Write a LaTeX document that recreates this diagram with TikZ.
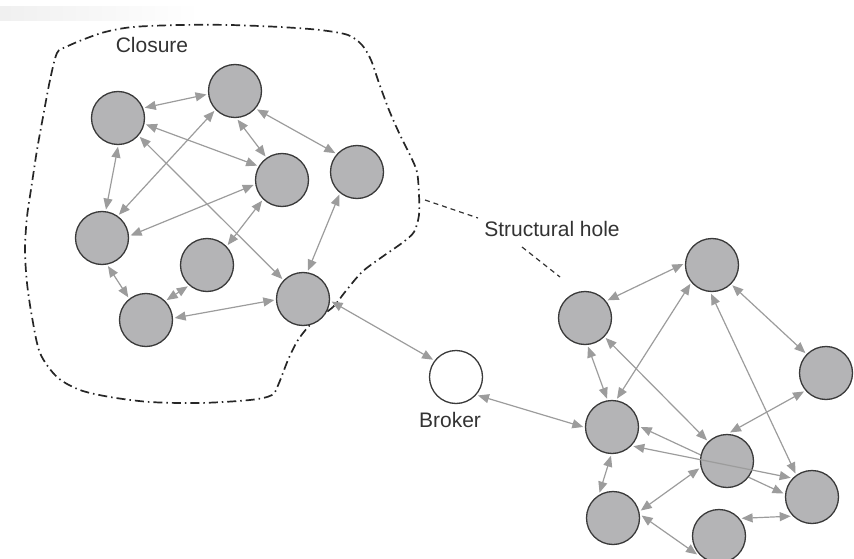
\documentclass[tikz,border=0pt]{standalone}
\usepackage{fontspec}
\setmainfont{Liberation Sans}
\usetikzlibrary{arrows.meta,backgrounds}
\definecolor{nodefill}{HTML}{B4B4B6}
\definecolor{nodeedge}{HTML}{3A3A3A}
\definecolor{linkgray}{HTML}{9C9C9C}
\definecolor{inkdark}{HTML}{262626}
\definecolor{labelgray}{HTML}{333333}
\begin{document}
\begin{tikzpicture}[x=1pt,y=-1pt,
  actor/.style={circle,draw=nodeedge,fill=nodefill,line width=1.3pt,
    minimum size=53pt,inner sep=0pt,outer sep=2.2pt},
  brokernode/.style={actor,fill=white},
  link/.style={draw=linkgray,line width=1.2pt,
    {Triangle[length=11pt,width=9pt]}-{Triangle[length=11pt,width=9pt]}},
  lbl/.style={text=labelgray,font=\fontsize{21}{25}\selectfont,inner sep=0pt},
  closureline/.style={draw=inkdark,line width=1.7pt,
    dash pattern=on 9pt off 4pt on 1.5pt off 4pt},
  holeline/.style={draw=labelgray,line width=1.2pt,dash pattern=on 5pt off 4pt}
]
\clip (0,0) rectangle (854,559);
% faint strip at the top left
\shade[left color=black!6,right color=white] (0,7) rectangle (200,21);

% closure boundary
\draw[closureline] plot[smooth cycle,tension=0.5] coordinates {
  (57,53) (50,80) (43,117) (37,150) (32,183) (27,217) (25,250) (27,283)
  (32,317) (40,353) (57,377) (80,390) (110,397) (150,402) (200,403)
  (250,400) (272,395) (279,383) (288,360) (298,340) (312,323) (333,307)
  (345,292) (362,272) (382,257) (402,243) (414,232) (419,215) (419,195)
  (417,172) (410,155) (400,135) (389,110) (379,83) (371,60) (362,45)
  (348,35) (320,30) (280,27) (230,25) (180,25) (133,27) (105,32) (82,40) (66,47)};

% labels
\node[lbl] (closure) at (152,45) {Closure};
\node[lbl] (hole) at (552,229) {Structural hole};
\node[lbl] (brokerlbl) at (450,420) {Broker};

% structural hole pointers
\coordinate (holeA) at (425,200);
\coordinate (holeB) at (478,218);
\coordinate (holeC) at (522,247);
\coordinate (holeD) at (560,277);
\draw[holeline] (holeA) -- (holeB);
\draw[holeline] (holeC) -- (holeD);

% left group
\node[actor] (A) at (118,118) {};
\node[actor] (B) at (235,91) {};
\node[actor] (C) at (282,180) {};
\node[actor] (D) at (357,172) {};
\node[actor] (E) at (102,238) {};
\node[actor] (F) at (207,265) {};
\node[actor] (G) at (146,320) {};
\node[actor] (H) at (303,299) {};

% broker
\node[brokernode] (broker) at (456,377) {};

% right group
\node[actor] (R1) at (585,318) {};
\node[actor] (R2) at (712,265) {};
\node[actor] (R3) at (826,373) {};
\node[actor] (R4) at (612,427) {};
\node[actor] (R5) at (727,461) {};
\node[actor] (R6) at (812,497) {};
\node[actor] (R7) at (613,518) {};
\node[actor] (R8) at (719,536) {};

% links of the left group
\draw[link] (A.21) -- (B.187);
\draw[link] (A.-13) -- (C.150);
\draw[link] (A.-90) -- (E.82);
\draw[link] (A.-41) -- (H.136);
\draw[link] (B.-85) -- (C.125);
\draw[link] (B.-40) -- (D.139);
\draw[link] (B.224) -- (E.54);
\draw[link] (E.5) -- (C.190);
\draw[link] (C.226) -- (F.44);
\draw[link] (D.232) -- (H.80);
\draw[link] (E.-78) -- (G.128);
\draw[link] (F.228) -- (G.44);
\draw[link] (G.4) -- (H.182);

% links through the broker
\draw[link] (H.-5) -- (broker.143);
\draw[link] (broker.-40) -- (R4.180);

% links of the right group
\draw[link] (R1.38) -- (R2.178);
\draw[link] (R1.-84) -- (R4.100);
\draw[link] (R2.221) -- (R4.80);
\draw[link] (R1.-44) -- (R5.134);
\draw[link] (R2.-45) -- (R3.136);
\draw[link] (R2.-92) -- (R6.125);
\draw[link] (R3.220) -- (R5.84);
\draw[link] (R4.-92) -- (R7.118);
\draw[link] (R7.15) -- (R5.195);
\draw[link] (R7.5) -- (R8.220);
\draw[link] (R8.38) -- (R6.222);
\draw[link] (R4.-42) -- (R6.138);
\begin{pgfonlayer}{background}
  \draw[link] (R4.0) -- (R6.173);
\end{pgfonlayer}
\end{tikzpicture}
\end{document}
